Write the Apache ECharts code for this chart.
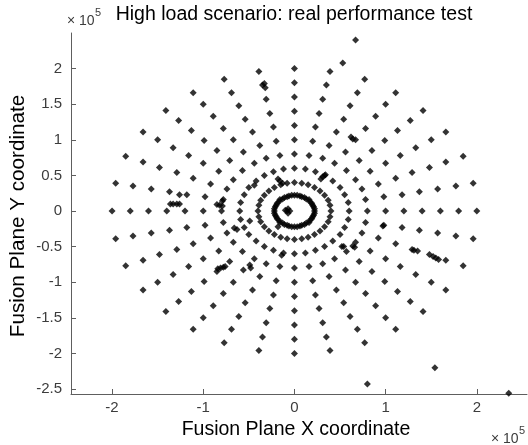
<!DOCTYPE html>
<html>
<head>
<meta charset="utf-8">
<script src="https://cdn.jsdelivr.net/npm/echarts@6/dist/echarts.min.js"></script>
<style>html,body{margin:0;padding:0;background:#fff}#c{width:528px;height:445px}</style>
</head>
<body>
<div id="c"></div>
<script>
// Tick labels (units of 10^5)
const xTicks = [-2, -1, 0, 1, 2];
const yTicks = [-2.5, -2, -1.5, -1, -0.5, 0, 0.5, 1, 1.5, 2];

// Spoke points, upper-right quadrant (x, y in units of 10^5)
const spokesQ1 = [
 [.4,0],[.6,0],[.8,0],[1,0],[1.2,0],[1.4,0],[1.6,0],[1.8,0],[2,0],
 [.39,.08],[.59,.12],[.78,.16],[.98,.2],[1.18,.23],[1.37,.27],[1.57,.31],[1.77,.35],[1.96,.39],
 [.37,.15],[.55,.23],[.74,.31],[.92,.38],[1.11,.46],[1.29,.54],[1.48,.61],[1.66,.69],[1.85,.77],
 [.33,.22],[.5,.33],[.67,.44],[.83,.56],[1,.67],[1.16,.78],[1.33,.89],[1.5,1],[1.66,1.11],
 [.28,.28],[.42,.42],[.57,.57],[.71,.71],[.85,.85],[.99,.99],[1.13,1.13],[1.27,1.27],[1.41,1.41],
 [.22,.33],[.33,.5],[.44,.67],[.56,.83],[.67,1],[.78,1.16],[.89,1.33],[1,1.5],[1.11,1.66],
 [.15,.37],[.23,.55],[.31,.74],[.38,.92],[.46,1.11],[.54,1.29],[.61,1.48],[.69,1.66],[.77,1.85],
 [.08,.39],[.12,.59],[.16,.78],[.2,.98],[.23,1.18],[.27,1.37],[.31,1.57],[.35,1.77],[.39,1.96]
];
// Upper-left quadrant
const spokesQ2 = [
 [0,.4],[0,.6],[0,.8],[0,1],[0,1.2],[0,1.4],[0,1.6],[0,1.8],[0,2],
 [-.08,.39],[-.12,.59],[-.16,.78],[-.2,.98],[-.23,1.18],[-.27,1.37],[-.31,1.57],[-.35,1.77],[-.39,1.96],
 [-.15,.37],[-.23,.55],[-.31,.74],[-.38,.92],[-.46,1.11],[-.54,1.29],[-.61,1.48],[-.69,1.66],[-.77,1.85],
 [-.22,.33],[-.33,.5],[-.44,.67],[-.56,.83],[-.67,1],[-.78,1.16],[-.89,1.33],[-1,1.5],[-1.11,1.66],
 [-.28,.28],[-.42,.42],[-.57,.57],[-.71,.71],[-.85,.85],[-.99,.99],[-1.13,1.13],[-1.27,1.27],[-1.41,1.41],
 [-.33,.22],[-.5,.33],[-.67,.44],[-.83,.56],[-1,.67],[-1.16,.78],[-1.33,.89],[-1.5,1],[-1.66,1.11],
 [-.37,.15],[-.55,.23],[-.74,.31],[-.92,.38],[-1.11,.46],[-1.29,.54],[-1.48,.61],[-1.66,.69],[-1.85,.77],
 [-.39,.08],[-.59,.12],[-.78,.16],[-.98,.2],[-1.18,.23],[-1.37,.27],[-1.57,.31],[-1.77,.35],[-1.96,.39]
];
// Lower-left quadrant
const spokesQ3 = [
 [-.4,0],[-.6,0],[-.8,0],[-1,0],[-1.2,0],[-1.4,0],[-1.6,0],[-1.8,0],[-2,0],
 [-.39,-.08],[-.59,-.12],[-.78,-.16],[-.98,-.2],[-1.18,-.23],[-1.37,-.27],[-1.57,-.31],[-1.77,-.35],[-1.96,-.39],
 [-.37,-.15],[-.55,-.23],[-.74,-.31],[-.92,-.38],[-1.11,-.46],[-1.29,-.54],[-1.48,-.61],[-1.66,-.69],[-1.85,-.77],
 [-.33,-.22],[-.5,-.33],[-.67,-.44],[-.83,-.56],[-1,-.67],[-1.16,-.78],[-1.33,-.89],[-1.5,-1],[-1.66,-1.11],
 [-.28,-.28],[-.42,-.42],[-.57,-.57],[-.71,-.71],[-.85,-.85],[-.99,-.99],[-1.13,-1.13],[-1.27,-1.27],[-1.41,-1.41],
 [-.22,-.33],[-.33,-.5],[-.44,-.67],[-.56,-.83],[-.67,-1],[-.78,-1.16],[-.89,-1.33],[-1,-1.5],[-1.11,-1.66],
 [-.15,-.37],[-.23,-.55],[-.31,-.74],[-.38,-.92],[-.46,-1.11],[-.54,-1.29],[-.61,-1.48],[-.69,-1.66],[-.77,-1.85],
 [-.08,-.39],[-.12,-.59],[-.16,-.78],[-.2,-.98],[-.23,-1.18],[-.27,-1.37],[-.31,-1.57],[-.35,-1.77],[-.39,-1.96]
];
// Lower-right quadrant
const spokesQ4 = [
 [0,-.4],[0,-.6],[0,-.8],[0,-1],[0,-1.2],[0,-1.4],[0,-1.6],[0,-1.8],[0,-2],
 [.08,-.39],[.12,-.59],[.16,-.78],[.2,-.98],[.23,-1.18],[.27,-1.37],[.31,-1.57],[.35,-1.77],[.39,-1.96],
 [.15,-.37],[.23,-.55],[.31,-.74],[.38,-.92],[.46,-1.11],[.54,-1.29],[.61,-1.48],[.69,-1.66],[.77,-1.85],
 [.22,-.33],[.33,-.5],[.44,-.67],[.56,-.83],[.67,-1],[.78,-1.16],[.89,-1.33],[1,-1.5],[1.11,-1.66],
 [.28,-.28],[.42,-.42],[.57,-.57],[.71,-.71],[.85,-.85],[.99,-.99],[1.13,-1.13],[1.27,-1.27],[1.41,-1.41],
 [.33,-.22],[.5,-.33],[.67,-.44],[.83,-.56],[1,-.67],[1.16,-.78],[1.33,-.89],[1.5,-1],[1.66,-1.11],
 [.37,-.15],[.55,-.23],[.74,-.31],[.92,-.38],[1.11,-.46],[1.29,-.54],[1.48,-.61],[1.66,-.69],[1.85,-.77],
 [.39,-.08],[.59,-.12],[.78,-.16],[.98,-.2],[1.18,-.23],[1.37,-.27],[1.57,-.31],[1.77,-.35],[1.96,-.39]
];
// Dense inner ring
const innerRing = [
 [.22,0],[.22,.03],[.21,.06],[.20,.08],[.19,.11],[.17,.13],[.16,.16],[.13,.17],[.11,.19],[.08,.20],[.06,.21],[.03,.22],
 [0,.22],[-.03,.22],[-.06,.21],[-.08,.20],[-.11,.19],[-.13,.17],[-.16,.16],[-.17,.13],[-.19,.11],[-.20,.08],[-.21,.06],[-.22,.03],
 [-.22,0],[-.22,-.03],[-.21,-.06],[-.20,-.08],[-.19,-.11],[-.17,-.13],[-.16,-.16],[-.13,-.17],[-.11,-.19],[-.08,-.20],[-.06,-.21],[-.03,-.22],
 [0,-.22],[.03,-.22],[.06,-.21],[.08,-.20],[.11,-.19],[.13,-.17],[.16,-.16],[.17,-.13],[.19,-.11],[.20,-.08],[.21,-.06],[.22,-.03]
];
// Off-grid detections and clusters
const extraPoints = [
 [-0.33,1.79],[-0.32,1.73],[0.67,2.40],[0.53,2.08],[0.62,1.04],[0.64,1.01],
 [0.29,0.45],[0.31,0.48],[0.34,0.51],[-0.18,0.45],[-0.16,0.42],[-0.13,0.39],
 [-0.1,0.01],[-0.08,0],[-0.05,0],[-0.07,0.03],[-0.07,-0.03],
 [-0.49,-0.14],[-0.18,-0.22],[0.52,-0.50],[0.54,-0.50],
 [-0.85,0.09],[-0.82,0.08],[-0.79,0.07],[-0.79,0.14],
 [-1.36,0.1],[-1.33,0.1],[-1.29,0.1],[-1.26,0.1],[-1.26,0.23],
 [-0.66,-0.24],[-0.63,-0.26],
 [-0.84,-0.81],[-0.81,-0.80],[-0.78,-0.79],[-0.76,-0.78],
 [-0.49,-0.76],[-0.48,-0.80],[-0.14,-0.62],[0.97,-0.21],
 [0.64,-0.49],[0.66,-0.51],[1.31,-0.55],[1.35,-0.56],
 [1.52,-0.64],[1.55,-0.66],[1.58,-0.68],
 [1.54,-2.20],[0.80,-2.43],[2.35,-2.56],[-0.44,0.36]
];

const FONT = "'Liberation Sans', Arial, Helvetica, sans-serif";
const AXIS_COLOR = '#5e5e5e';
const LABEL_COLOR = '#3c3c3c';

const chart = echarts.init(document.getElementById('c'), null, {renderer: 'canvas'});
const allPoints = [].concat(spokesQ1, spokesQ2, spokesQ3, spokesQ4, innerRing, extraPoints);

chart.setOption({
  animation: false,
  backgroundColor: '#ffffff',
  grid: {left: 71, right: 1, top: 33, bottom: 51, containLabel: false},
  xAxis: {
    type: 'value', min: -2.45, max: 2.55,
    axisLine: {show: true, onZero: false, lineStyle: {color: AXIS_COLOR, width: 1}},
    axisTick: {show: true, inside: true, length: 5, customValues: xTicks, lineStyle: {color: AXIS_COLOR}},
    axisLabel: {customValues: xTicks, color: LABEL_COLOR, fontSize: 15, fontFamily: FONT, margin: 6},
    splitLine: {show: false}
  },
  yAxis: {
    type: 'value', min: -2.57, max: 2.5,
    axisLine: {show: true, onZero: false, lineStyle: {color: AXIS_COLOR, width: 1}},
    axisTick: {show: true, inside: true, length: 5, customValues: yTicks, lineStyle: {color: AXIS_COLOR}},
    axisLabel: {customValues: yTicks, color: LABEL_COLOR, fontSize: 15, fontFamily: FONT, margin: 9},
    splitLine: {show: false}
  },
  series: [{
    type: 'scatter',
    data: allPoints,
    symbol: 'diamond',
    symbolSize: 7,
    itemStyle: {color: '#000000'},
    silent: true
  }],
  graphic: {elements: [
    {type: 'text', x: 294, y: 15, style: {text: 'High load scenario: real performance test', fontSize: 19.5, fontFamily: FONT, fill: '#000', align: 'center', verticalAlign: 'middle'}},
    {type: 'text', x: 67, y: 21, style: {text: '\u00d7 10', fontSize: 14, fontFamily: FONT, fill: LABEL_COLOR, align: 'left', verticalAlign: 'middle'}},
    {type: 'text', x: 95, y: 13, style: {text: '5', fontSize: 11, fontFamily: FONT, fill: LABEL_COLOR, align: 'left', verticalAlign: 'middle'}},
    {type: 'text', x: 296, y: 430, style: {text: 'Fusion Plane X coordinate', fontSize: 19.5, fontFamily: FONT, fill: '#000', align: 'center', verticalAlign: 'middle'}},
    {type: 'text', x: 491, y: 439, style: {text: '\u00d7 10', fontSize: 14, fontFamily: FONT, fill: LABEL_COLOR, align: 'left', verticalAlign: 'middle'}},
    {type: 'text', x: 519, y: 431, style: {text: '5', fontSize: 11, fontFamily: FONT, fill: LABEL_COLOR, align: 'left', verticalAlign: 'middle'}},
    {type: 'text', x: 19, y: 216, rotation: Math.PI / 2, scaleX: 1.06, style: {text: 'Fusion Plane Y coordinate', fontSize: 19.5, fontFamily: FONT, fill: '#000', align: 'center', verticalAlign: 'middle'}}
  ]}
});
</script>
</body>
</html>
